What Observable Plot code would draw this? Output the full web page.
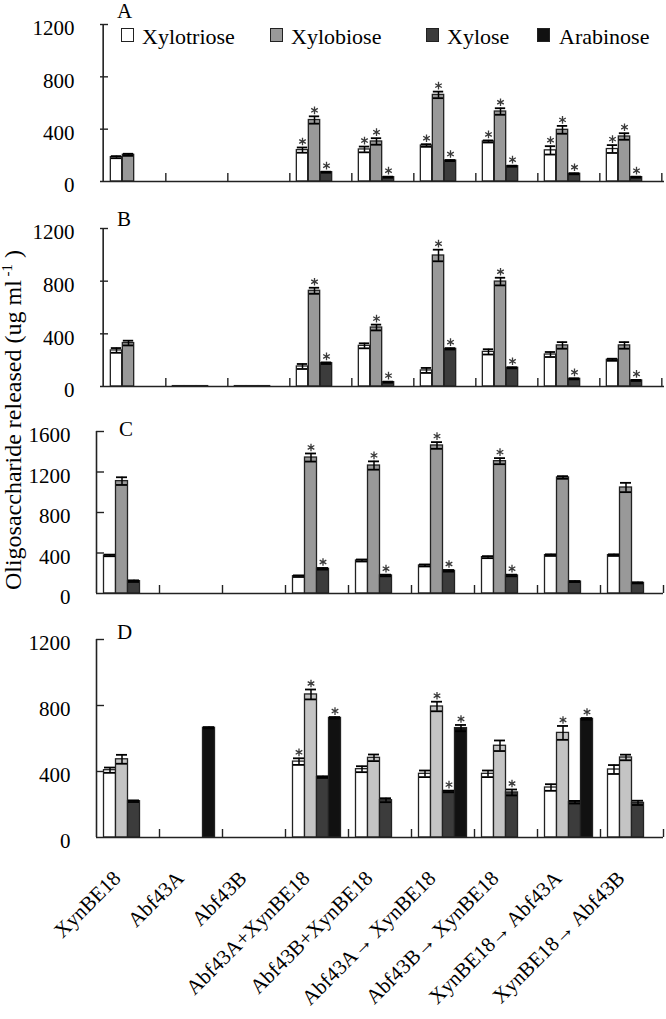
<!DOCTYPE html>
<html><head><meta charset="utf-8">
<script src="https://cdn.jsdelivr.net/npm/d3@7"></script>
<script src="https://cdn.jsdelivr.net/npm/@observablehq/plot@0.6"></script>
<style>
body{margin:0;background:#fff;}
#chart{position:relative;width:666px;height:1019px;font-family:"Liberation Serif","DejaVu Serif",serif;color:#000;overflow:hidden;background:#fff}
#chart svg{position:absolute;left:0}
#chart svg text{font-family:"Liberation Serif","DejaVu Serif",serif}
.abs{position:absolute;line-height:1;white-space:nowrap}
.sw{position:absolute;width:13px;height:14px;border:1.5px solid #222;box-sizing:border-box}
</style></head><body><div id="chart"></div>
<script>
// ---------- data ----------
const categories = ["XynBE18","Abf43A","Abf43B","Abf43A+XynBE18","Abf43B+XynBE18","Abf43A\u2192 XynBE18","Abf43B\u2192 XynBE18","XynBE18\u2192 Abf43A","XynBE18\u2192 Abf43B"];
const seriesNames = ["Xylotriose","Xylobiose","Xylose","Arabinose"];
const panelLetters = ["A","B","C","D"];
const yTicksABD = [0,400,800,1200];
const yTicksC = [0,400,800,1200,1600];

// Panel A
const aXylotriose    = [186,0,0,240,245,275,306,238,248];
const aXylotrioseErr = [8,0,0,20,22,10,8,32,30];
const aXylobiose     = [204,0,0,470,306,662,535,395,344];
const aXylobioseErr  = [8,0,0,28,25,25,25,30,25];
const aXylose        = [0,0,0,71,33,160,117,59,33];
const aXyloseErr     = [0,0,0,4,4,4,4,4,4];
const aArabinose     = [0,0,0,0,0,0,0,0,0];
const aArabinoseErr  = [0,0,0,0,0,0,0,0,0];
const aStars = [[],[],[],[0,1,2],[0,1,2],[0,1,2],[0,1,2],[0,1,2],[0,1,2]];

// Panel B
const bXylotriose    = [274,3,3,152,309,122,263,243,203];
const bXylotrioseErr = [18,0,0,19,19,19,20,19,8];
const bXylobiose     = [330,3,3,727,448,995,797,312,312];
const bXylobioseErr  = [18,0,0,23,22,44,29,25,25];
const bXylose        = [0,3,3,177,33,286,142,58,46];
const bXyloseErr     = [0,0,0,6,4,5,4,4,4];
const bArabinose     = [0,0,0,0,0,0,0,0,0];
const bArabinoseErr  = [0,0,0,0,0,0,0,0,0];
const bStars = [[],[],[],[1,2],[1,2],[1,2],[1,2],[2],[2]];

// Panel C
const cXylotriose    = [376,0,0,171,326,277,359,379,379];
const cXylotrioseErr = [8,0,0,8,10,10,10,8,8];
const cXylobiose     = [1110,0,0,1343,1264,1462,1307,1146,1047];
const cXylobioseErr  = [38,0,0,40,41,33,30,13,46];
const cXylose        = [122,0,0,244,178,224,178,118,105];
const cXyloseErr     = [8,0,0,8,8,8,8,5,5];
const cArabinose     = [0,0,0,0,0,0,0,0,0];
const cArabinoseErr  = [0,0,0,0,0,0,0,0,0];
const cStars = [[],[],[],[1,2],[1,2],[1,2],[1,2],[],[]];

// Panel D
const dXylotriose    = [408,0,0,460,414,386,386,303,412];
const dXylotrioseErr = [16,0,0,20,18,20,20,20,27];
const dXylobiose     = [474,0,0,867,483,794,556,634,485];
const dXylobioseErr  = [27,0,0,30,20,29,32,42,17];
const dXylose        = [220,0,0,366,226,279,273,214,210];
const dXyloseErr     = [5,0,0,5,12,5,18,8,13];
const dArabinose     = [0,665,0,725,0,663,0,719,0];
const dArabinoseErr  = [0,4,0,5,0,19,0,5,0];
const dStars = [[],[],[],[0,1,3],[],[1,2,3],[2],[1,3],[]];

// ---------- drawing ----------
const chart = document.getElementById("chart");
const W = 666;
const FONT = "'Liberation Serif','DejaVu Serif',serif";

function panel(cfg) {
  const {top, height, marginTop, marginBottom, marginLeft, marginRight, yMax, yTicks, values, errs, stars, fills, xLabels} = cfg;
  const n = categories.length;
  const innerW = W - marginLeft - marginRight;
  const innerH = height - marginTop - marginBottom;
  const step = innerW / n;
  const bw = 12;
  const pad = (step - 4 * bw) / 2;
  const marks = [];
  const errMarks = [];
  values.forEach((vals, j) => {
    const rows = categories.map((c, i) => ({cat: c, value: vals[i], err: errs[j][i], star: stars[i].includes(j)}));
    const L = pad + j * bw, R = step - pad - (j + 1) * bw, dx = pad + (j + 0.5) * bw - step / 2;
    marks.push(Plot.barY(rows.filter(d => d.value > 0), {x: "cat", y: "value", fill: fills[j], stroke: "#222", strokeWidth: 1.3, insetLeft: L, insetRight: R}));
    const e = rows.filter(d => d.value > 0 && d.err > 0);
    errMarks.push(Plot.ruleX(e, {x: "cat", y1: d => d.value - d.err, y2: d => d.value + d.err, dx, stroke: "#000", strokeWidth: 1.5}));
    errMarks.push(Plot.tickY(e, {x: "cat", y: d => d.value + d.err, insetLeft: L + 0.5, insetRight: R + 0.5, stroke: "#000", strokeWidth: 1.8}));
    errMarks.push(Plot.tickY(e, {x: "cat", y: d => d.value - d.err, insetLeft: L + 0.5, insetRight: R + 0.5, stroke: "#000", strokeWidth: 1.8}));
    errMarks.push(Plot.dot(rows.filter(d => d.star), {x: "cat", y: d => d.value + d.err, dx, dy: -6, symbol: "asterisk", r: 3.6, stroke: "#3a3a3a", strokeWidth: 1.3, fill: "none"}));
  });
  const axisMarks = [
    Plot.ruleY([0], {stroke: "#222", strokeWidth: 1.6}),
    Plot.ruleX([categories[0]], {x: d => d, dx: -step / 2, stroke: "#222", strokeWidth: 1.6}),
    Plot.tickX(categories, {x: d => d, dx: step / 2, insetTop: innerH - 8, stroke: "#222", strokeWidth: 1.4}),
    Plot.tickY(yTicks.filter(t => t > 0), {y: d => d, insetRight: innerW - 8, stroke: "#222", strokeWidth: 1.4}),
    Plot.axisY(yTicks, {tickSize: 0, tickPadding: 26, dy: 4, label: null, fill: "#000", tickFormat: d => String(d), fontSize: 21, fontFamily: FONT})
  ];
  if (xLabels) {
    axisMarks.push(Plot.text(categories, {x: d => d, frameAnchor: "bottom", dx: -6, dy: 42, rotate: -45, textAnchor: "end", lineAnchor: "bottom", fontSize: 21, fill: "#000", fontFamily: FONT}));
  }
  const svg = Plot.plot({
    width: W, height, marginTop, marginBottom, marginLeft, marginRight,
    style: `font-family:${FONT};font-size:21px;color:#000;background:transparent;overflow:visible;`,
    x: {type: "band", domain: categories, padding: 0, axis: null},
    y: {domain: [0, yMax]},
    marks: [...marks, ...errMarks, ...axisMarks]
  });
  svg.style.top = top + "px";
  chart.appendChild(svg);
}

const fillsABC = ["#ffffff", "#999999", "#3c3c3c", "#111111"];
const fillsD = ["#ffffff", "#c4c4c4", "#3c3c3c", "#111111"];

panel({top: 0, height: 200, marginTop: 24, marginBottom: 19, marginLeft: 100, marginRight: 2, yMax: 1200, yTicks: yTicksABD,
  values: [aXylotriose, aXylobiose, aXylose, aArabinose], errs: [aXylotrioseErr, aXylobioseErr, aXyloseErr, aArabinoseErr], stars: aStars, fills: fillsABC});
panel({top: 200, height: 200, marginTop: 28, marginBottom: 14, marginLeft: 100, marginRight: 2, yMax: 1200, yTicks: yTicksABD,
  values: [bXylotriose, bXylobiose, bXylose, bArabinose], errs: [bXylotrioseErr, bXylobioseErr, bXyloseErr, bArabinoseErr], stars: bStars, fills: fillsABC});
panel({top: 400, height: 210, marginTop: 31, marginBottom: 17, marginLeft: 96, marginRight: 3, yMax: 1600, yTicks: yTicksC,
  values: [cXylotriose, cXylobiose, cXylose, cArabinose], errs: [cXylotrioseErr, cXylobioseErr, cXyloseErr, cArabinoseErr], stars: cStars, fills: fillsABC});
panel({top: 610, height: 409, marginTop: 29, marginBottom: 182, marginLeft: 96, marginRight: 3, yMax: 1200, yTicks: yTicksABD,
  values: [dXylotriose, dXylobiose, dXylose, dArabinose], errs: [dXylotrioseErr, dXylobioseErr, dXyloseErr, dArabinoseErr], stars: dStars, fills: fillsD, xLabels: true});

// panel letters
const letterPos = [[117, 1], [117, 209], [119, 419], [117, 622]];
panelLetters.forEach((t, i) => {
  const el = document.createElement("div");
  el.className = "abs"; el.textContent = t;
  el.style.left = letterPos[i][0] + "px"; el.style.top = letterPos[i][1] + "px"; el.style.fontSize = "21px";
  chart.appendChild(el);
});

// legend
const legendSw = [121, 270, 426, 537];
const legendTx = [142, 291, 447, 559];
seriesNames.forEach((s, i) => {
  const sw = document.createElement("div");
  sw.className = "sw"; sw.style.left = legendSw[i] + "px"; sw.style.top = "28px"; sw.style.background = fillsABC[i];
  chart.appendChild(sw);
  const tx = document.createElement("div");
  tx.className = "abs"; tx.textContent = s; tx.style.fontSize = "22px";
  tx.style.left = legendTx[i] + "px"; tx.style.top = "26px";
  chart.appendChild(tx);
});

// y title
const yt = document.createElement("div");
yt.className = "abs";
yt.style.fontSize = "24px";
yt.style.left = "12px"; yt.style.top = "420px";
yt.style.transform = "translate(-50%,-50%) rotate(-90deg)";
yt.innerHTML = "Oligosaccharide released (ug ml<sup style='font-size:15px;vertical-align:9px'> -1</sup> )";
chart.appendChild(yt);
</script>
</body></html>
